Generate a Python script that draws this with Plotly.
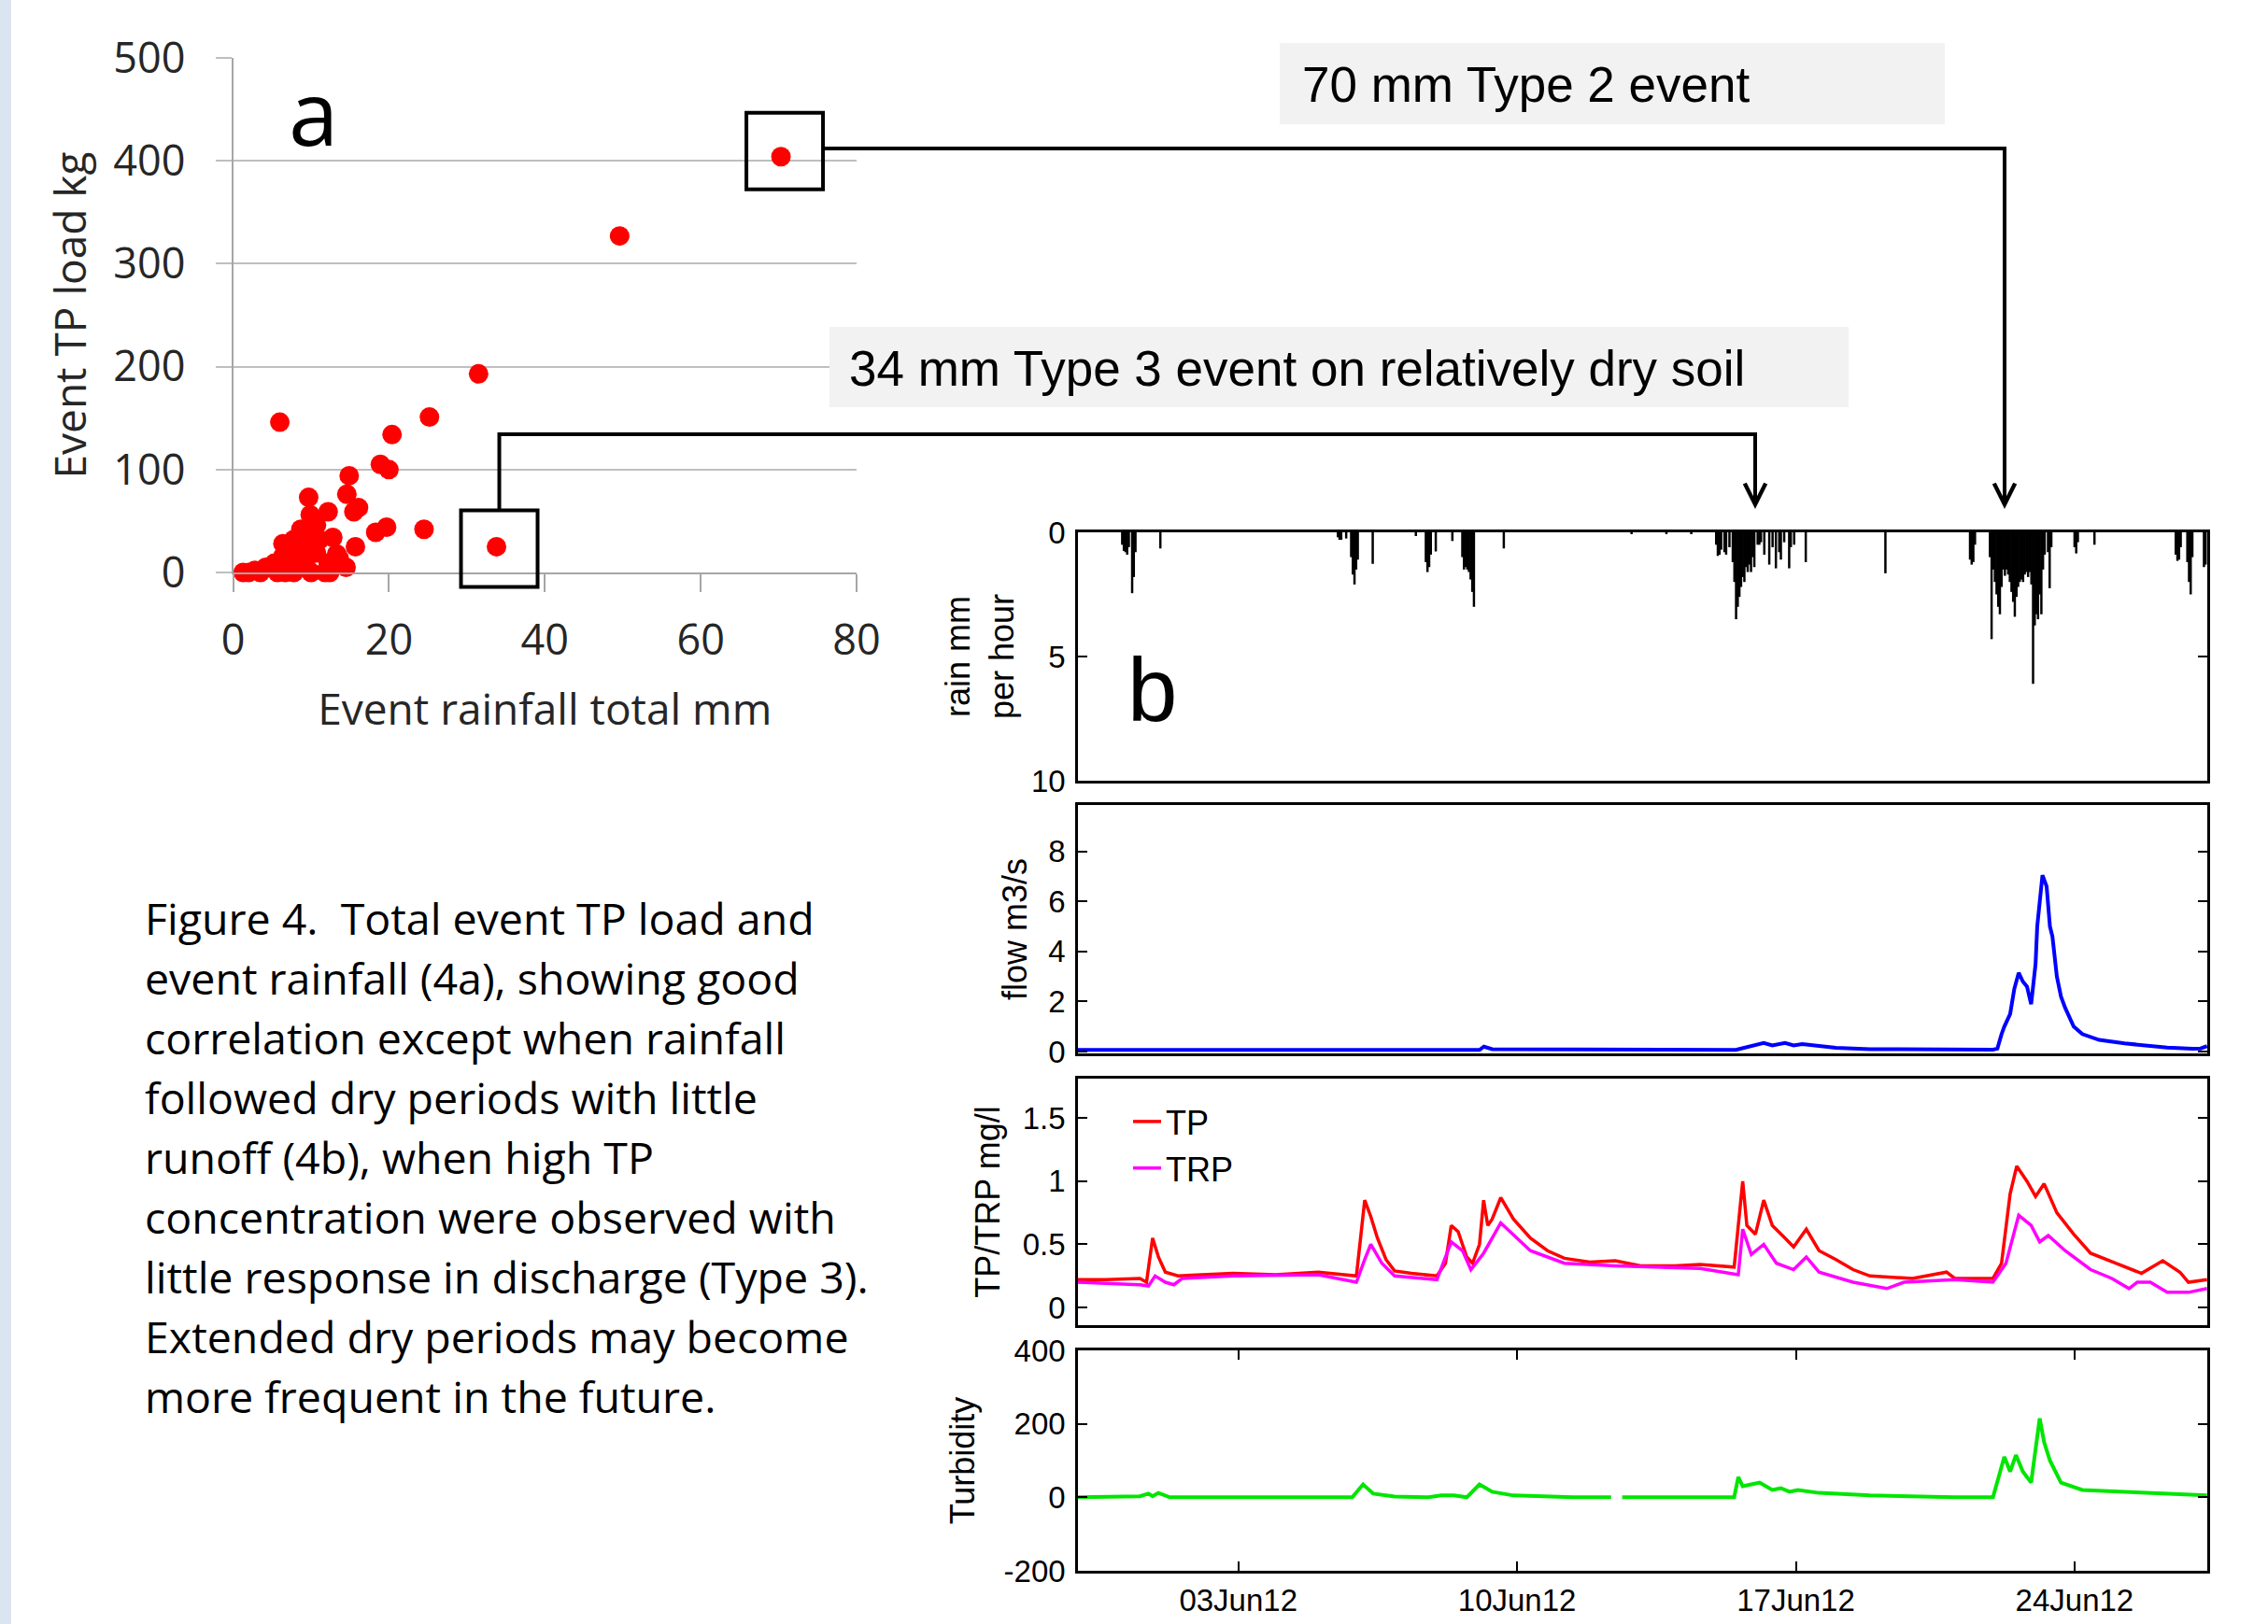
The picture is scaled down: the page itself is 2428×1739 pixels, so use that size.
import plotly.graph_objects as go

W, H = 2428, 1739


def px(x):
    return x / W


def py(y):
    return 1 - y / H


# ---------------- Panel a: event totals ----------------
event_rain_mm = [70.3, 49.6, 31.5, 25.2, 20.4, 6.0, 18.9, 20.0, 14.9, 9.7,
                 14.6, 16.1, 15.5, 12.2, 9.9, 8.7, 18.3, 19.7, 24.5, 15.7,
                 33.8, 12.8, 10.7, 1.3, 2.8, 4.2, 5.3, 6.4, 6.4, 7.5,
                 7.8, 9.3, 10.0, 10.7, 11.8, 12.2, 13.6, 14.5, 13.3, 11.1,
                 8.6, 7.1, 5.7, 9.6, 10.4, 7.8, 12.4, 3.5, 2.0, 6.7]
event_tp_kg = [404, 327, 193, 151, 134, 146, 105, 100, 94, 73,
               76, 63, 59, 59, 56, 42, 39, 44, 42, 25,
               25, 34, 46, 0, 2, 5, 9, 16, 28, 19,
               0, 9, 0, 19, 0, 9, 14, 5, 18, 32,
               28, 5, 0, 23, 37, 32, 0, 0, 0, 0]
IDX_TYPE2 = 0    # 70 mm Type 2 event
IDX_TYPE3 = 20   # 34 mm Type 3 event

# ---------------- Panel b: time series ----------------
rain_time = [
    "2012-05-31 02:00", "2012-05-31 03:00", "2012-05-31 04:00", "2012-05-31 05:00", "2012-05-31 06:00",
    "2012-05-31 08:00", "2012-05-31 09:00", "2012-05-31 10:00", "2012-06-01 01:00",
    "2012-06-05 12:00", "2012-06-05 13:00", "2012-06-05 14:00", "2012-06-05 17:00",
    "2012-06-05 20:00", "2012-06-05 21:00", "2012-06-05 22:00", "2012-06-05 23:00", "2012-06-06 00:00",
    "2012-06-06 09:00",
    "2012-06-07 11:00", "2012-06-07 17:00", "2012-06-07 18:00", "2012-06-07 19:00", "2012-06-07 20:00",
    "2012-06-07 23:00", "2012-06-08 09:00",
    "2012-06-08 15:00", "2012-06-08 16:00", "2012-06-08 17:00", "2012-06-08 18:00", "2012-06-08 19:00",
    "2012-06-08 20:00", "2012-06-08 21:00", "2012-06-08 22:00", "2012-06-09 16:00",
    "2012-06-12 21:00", "2012-06-13 18:00", "2012-06-14 09:00",
    "2012-06-15 00:00", "2012-06-15 01:00", "2012-06-15 02:00", "2012-06-15 03:00", "2012-06-15 05:00",
    "2012-06-15 06:00", "2012-06-15 08:00", "2012-06-15 10:00", "2012-06-15 11:00", "2012-06-15 12:00",
    "2012-06-15 13:00", "2012-06-15 14:00", "2012-06-15 15:00", "2012-06-15 16:00", "2012-06-15 17:00",
    "2012-06-15 18:00", "2012-06-15 19:00", "2012-06-15 20:00", "2012-06-15 21:00", "2012-06-15 22:00",
    "2012-06-15 23:00", "2012-06-16 01:00", "2012-06-16 02:00", "2012-06-16 03:00", "2012-06-16 05:00",
    "2012-06-16 08:00", "2012-06-16 10:00", "2012-06-16 12:00", "2012-06-16 14:00", "2012-06-16 15:00",
    "2012-06-16 17:00", "2012-06-16 20:00", "2012-06-16 21:00", "2012-06-16 23:00", "2012-06-17 06:00",
    "2012-06-19 06:00",
    "2012-06-21 09:00", "2012-06-21 10:00", "2012-06-21 11:00", "2012-06-21 12:00",
    "2012-06-21 21:00", "2012-06-21 22:00", "2012-06-21 23:00",
    "2012-06-22 00:00", "2012-06-22 01:00", "2012-06-22 02:00", "2012-06-22 03:00", "2012-06-22 04:00",
    "2012-06-22 05:00", "2012-06-22 06:00", "2012-06-22 07:00", "2012-06-22 08:00", "2012-06-22 09:00",
    "2012-06-22 10:00", "2012-06-22 11:00", "2012-06-22 12:00", "2012-06-22 13:00", "2012-06-22 14:00",
    "2012-06-22 15:00", "2012-06-22 16:00", "2012-06-22 17:00", "2012-06-22 18:00", "2012-06-22 19:00",
    "2012-06-22 20:00", "2012-06-22 21:00", "2012-06-22 22:00", "2012-06-22 23:00",
    "2012-06-23 00:00", "2012-06-23 01:00", "2012-06-23 02:00", "2012-06-23 03:00", "2012-06-23 04:00",
    "2012-06-23 05:00", "2012-06-23 06:00", "2012-06-23 08:00", "2012-06-23 09:00", "2012-06-23 10:00",
    "2012-06-24 00:00", "2012-06-24 01:00", "2012-06-24 02:00", "2012-06-24 12:00",
    "2012-06-26 13:00", "2012-06-26 14:00", "2012-06-26 15:00", "2012-06-26 16:00",
    "2012-06-26 20:00", "2012-06-26 21:00", "2012-06-26 22:00", "2012-06-26 23:00",
    "2012-06-27 06:00", "2012-06-27 07:00",
]
rain_mmh = [
    0.5, 0.75, 0.8, 0.9, 0.6,
    2.45, 1.8, 0.8, 0.65,
    0.2, 0.3, 0.3, 0.25,
    1.0, 1.7, 2.1, 1.5, 1.1,
    1.27,
    0.15, 1.2, 1.6, 1.4, 0.9,
    0.77, 0.35,
    1.0, 1.5, 1.4, 1.5, 1.6,
    1.9, 2.4, 3.0, 0.65,
    0.05, 0.05, 0.05,
    0.5, 0.95, 0.9, 0.7, 0.8,
    0.9, 0.6, 1.2, 2.0, 3.5,
    3.0, 2.6, 2.2, 1.8, 2.0,
    1.4, 1.6, 1.3, 1.6, 1.0,
    1.4, 0.5, 0.5, 0.4, 0.9,
    1.3, 0.6, 1.45, 0.8, 1.1,
    0.4, 1.45, 0.6, 0.5, 1.2,
    1.65,
    1.1, 1.3, 1.2, 0.5,
    1.0, 4.3, 1.5,
    2.0, 2.5, 3.0, 3.3, 2.2,
    1.5, 1.75, 1.5, 1.7, 2.0,
    2.4, 2.8, 3.4, 2.6, 2.2,
    2.0, 1.9, 2.0, 1.7, 1.6,
    1.8, 1.6, 2.1, 6.1,
    3.75, 3.3, 3.5, 2.5, 3.3,
    1.5, 0.9, 0.8, 2.25, 0.6,
    0.6, 0.85, 0.4, 0.5,
    0.9, 1.15, 1.1, 0.6,
    1.2, 2.0, 2.5, 1.0,
    1.4, 1.3,
]

flow_time = [
    "2012-05-29 23:20", "2012-06-09 01:20", "2012-06-09 04:00", "2012-06-09 09:00", "2012-06-15 11:50",
    "2012-06-16 02:10", "2012-06-16 04:40", "2012-06-16 09:50", "2012-06-16 17:30", "2012-06-16 22:40",
    "2012-06-17 03:50", "2012-06-18 00:10", "2012-06-18 20:40", "2012-06-21 22:50", "2012-06-22 01:30",
    "2012-06-22 04:00", "2012-06-22 05:40", "2012-06-22 09:10", "2012-06-22 11:40", "2012-06-22 14:20",
    "2012-06-22 16:50", "2012-06-22 19:20", "2012-06-22 21:50", "2012-06-23 00:30", "2012-06-23 01:30",
    "2012-06-23 04:40", "2012-06-23 07:10", "2012-06-23 09:10", "2012-06-23 10:40", "2012-06-23 13:20",
    "2012-06-23 15:50", "2012-06-23 18:20", "2012-06-23 23:30", "2012-06-24 04:40", "2012-06-24 14:50",
    "2012-06-25 06:10", "2012-06-26 07:50", "2012-06-26 23:10", "2012-06-27 04:00", "2012-06-27 07:50",
]
flow_m3s = [
    0.07, 0.07, 0.20, 0.10, 0.07,
    0.30, 0.35, 0.25, 0.35, 0.25,
    0.30, 0.15, 0.10, 0.08, 0.12,
    0.70, 1.00, 1.50, 2.50, 3.15,
    2.80, 2.60, 1.90, 3.50, 5.00,
    7.05, 6.60, 5.00, 4.60, 3.00,
    2.20, 1.75, 1.00, 0.70, 0.47,
    0.33, 0.16, 0.12, 0.13, 0.22,
]

tp_time = [
    "2012-05-29 23:20", "2012-05-30 16:10", "2012-05-31 12:40", "2012-05-31 16:40", "2012-05-31 20:20",
    "2012-05-31 23:50", "2012-06-01 04:00", "2012-06-01 11:40", "2012-06-02 20:50", "2012-06-03 22:30",
    "2012-06-05 00:10", "2012-06-05 23:10", "2012-06-06 04:10", "2012-06-06 07:50", "2012-06-06 11:50",
    "2012-06-06 17:00", "2012-06-06 22:10", "2012-06-07 08:20", "2012-06-07 23:40", "2012-06-08 04:50",
    "2012-06-08 08:20", "2012-06-08 12:30", "2012-06-08 17:40", "2012-06-08 21:10", "2012-06-09 01:20",
    "2012-06-09 03:50", "2012-06-09 06:20", "2012-06-09 09:00", "2012-06-09 14:10", "2012-06-09 21:50",
    "2012-06-10 08:00", "2012-06-10 18:20", "2012-06-11 04:30", "2012-06-11 19:50", "2012-06-12 11:10",
    "2012-06-13 02:30", "2012-06-13 23:00", "2012-06-14 14:20", "2012-06-15 10:50", "2012-06-15 16:00",
    "2012-06-15 18:30", "2012-06-15 23:40", "2012-06-16 04:40", "2012-06-16 09:50", "2012-06-16 17:30",
    "2012-06-16 22:40", "2012-06-17 06:20", "2012-06-17 14:00", "2012-06-18 00:10", "2012-06-18 10:30",
    "2012-06-18 20:40", "2012-06-19 22:20", "2012-06-20 18:50", "2012-06-20 23:50", "2012-06-21 22:50",
    "2012-06-22 04:00", "2012-06-22 09:10", "2012-06-22 13:10", "2012-06-22 19:20", "2012-06-23 00:30",
    "2012-06-23 05:40", "2012-06-23 13:20", "2012-06-23 23:30", "2012-06-24 09:40", "2012-06-25 01:10",
    "2012-06-25 16:20", "2012-06-26 05:10", "2012-06-26 15:30", "2012-06-26 20:40", "2012-06-27 07:50",
]
tp_mgl = [
    0.22, 0.22, 0.23, 0.20, 0.55,
    0.40, 0.28, 0.25, 0.27, 0.26,
    0.28, 0.25, 0.85, 0.72, 0.55,
    0.38, 0.29, 0.27, 0.25, 0.35,
    0.65, 0.60, 0.40, 0.35, 0.50,
    0.85, 0.65, 0.70, 0.87, 0.70,
    0.55, 0.45, 0.39, 0.36, 0.37,
    0.33, 0.33, 0.34, 0.32, 1.00,
    0.65, 0.58, 0.85, 0.65, 0.55,
    0.48, 0.62, 0.45, 0.38, 0.30,
    0.25, 0.23, 0.28, 0.23, 0.23,
    0.35, 0.90, 1.12, 1.00, 0.88,
    0.98, 0.75, 0.58, 0.43, 0.35,
    0.27, 0.37, 0.28, 0.20, 0.22,
]

trp_time = [
    "2012-05-29 23:20", "2012-05-31 12:40", "2012-05-31 17:50", "2012-05-31 21:50", "2012-06-01 04:00",
    "2012-06-01 09:10", "2012-06-01 14:10", "2012-06-02 20:50", "2012-06-05 00:10", "2012-06-05 23:10",
    "2012-06-06 04:10", "2012-06-06 07:50", "2012-06-06 14:30", "2012-06-06 22:10", "2012-06-07 23:40",
    "2012-06-08 08:20", "2012-06-08 15:10", "2012-06-08 20:10", "2012-06-09 03:50", "2012-06-09 14:10",
    "2012-06-10 08:00", "2012-06-11 04:30", "2012-06-12 11:10", "2012-06-14 14:20", "2012-06-15 13:20",
    "2012-06-15 16:00", "2012-06-15 21:10", "2012-06-16 04:40", "2012-06-16 12:20", "2012-06-16 22:40",
    "2012-06-17 06:20", "2012-06-17 14:00", "2012-06-18 10:30", "2012-06-19 06:50", "2012-06-19 17:10",
    "2012-06-20 23:50", "2012-06-21 22:50", "2012-06-22 06:40", "2012-06-22 14:20", "2012-06-22 21:50",
    "2012-06-23 03:00", "2012-06-23 08:10", "2012-06-23 18:20", "2012-06-24 09:40", "2012-06-24 22:30",
    "2012-06-25 08:50", "2012-06-25 13:50", "2012-06-25 21:40", "2012-06-26 07:50", "2012-06-26 20:40",
    "2012-06-27 07:50",
]
trp_mgl = [
    0.20, 0.18, 0.17, 0.25, 0.20,
    0.18, 0.23, 0.25, 0.26, 0.20,
    0.38, 0.50, 0.35, 0.25, 0.22,
    0.52, 0.45, 0.30, 0.43, 0.67,
    0.45, 0.35, 0.33, 0.31, 0.26,
    0.62, 0.42, 0.50, 0.35, 0.30,
    0.40, 0.28, 0.20, 0.15, 0.20,
    0.22, 0.20, 0.35, 0.73, 0.65,
    0.52, 0.57, 0.45, 0.30, 0.23,
    0.15, 0.20, 0.20, 0.12, 0.12,
    0.15,
]

turb_time = [
    "2012-05-29 23:20", "2012-05-31 12:40", "2012-05-31 17:50", "2012-05-31 20:20", "2012-05-31 23:50",
    "2012-06-01 06:40", "2012-06-05 20:40", "2012-06-06 03:10", "2012-06-06 09:20", "2012-06-06 22:10",
    "2012-06-07 18:40", "2012-06-08 02:20", "2012-06-08 10:00", "2012-06-08 17:40", "2012-06-09 01:20",
    "2012-06-09 09:00", "2012-06-09 21:50", "2012-06-11 09:40", "2012-06-12 08:40", "2012-06-12 12:00",
    "2012-06-12 15:20", "2012-06-15 10:50", "2012-06-15 13:20", "2012-06-15 16:00", "2012-06-15 21:10",
    "2012-06-16 02:10", "2012-06-16 09:50", "2012-06-16 15:00", "2012-06-16 20:10", "2012-06-17 01:10",
    "2012-06-17 14:00", "2012-06-18 20:40", "2012-06-20 23:50", "2012-06-21 22:50", "2012-06-22 05:40",
    "2012-06-22 09:10", "2012-06-22 12:40", "2012-06-22 16:50", "2012-06-22 21:50", "2012-06-23 03:00",
    "2012-06-23 05:40", "2012-06-23 09:10", "2012-06-23 15:50", "2012-06-24 04:40", "2012-06-25 06:10",
    "2012-06-26 02:40", "2012-06-27 07:50",
]
turbidity = [
    0, 3, 10, 3, 12,
    0, 0, 35, 10, 2,
    0, 5, 5, 0, 35,
    15, 5, 0, 0, None,
    0, 0, 55, 30, 35,
    40, 20, 25, 15, 20,
    12, 5, 0, 0, 110,
    70, 115, 70, 40, 215,
    150, 100, 40, 20, 15,
    10, 5,
]

date_ticks = ["2012-06-03", "2012-06-10", "2012-06-17", "2012-06-24"]
date_range = ["2012-05-29 23:20", "2012-06-27 08:00"]

caption_lines = [
    "Figure 4.\u00a0 Total event TP load and",
    "event rainfall (4a), showing good",
    "correlation except when rainfall",
    "followed dry periods with little",
    "runoff (4b), when high TP",
    "concentration were observed with",
    "little response in discharge (Type 3).",
    "Extended dry periods may become",
    "more frequent in the future.",
]

# ---------------- styling ----------------
SANS_A = "Open Sans, Lato, sans-serif"
SANS_B = "Liberation Sans, Arial, sans-serif"
GRID = "#bfbfbf"
AXGRAY = "#a6a6a6"
TXT_A = "#262626"

# panel a geometry (pixels)
A_X0, A_X1 = 249.5, 917
A_Y0, A_Y1 = 613, 62
A_XR = [0, 80]
A_YR = [0, 500]
# panel b geometry
B_X0, B_X1 = 1154, 2363
RAIN_Y = (836, 570)
FLOW_Y = (1128, 862)
TP_Y = (1419, 1155)
TURB_Y = (1682, 1446)

fig = go.Figure()

fig.add_trace(go.Scatter(
    x=event_rain_mm, y=event_tp_kg, mode="markers",
    marker=dict(color="#ff0000", size=21, line=dict(width=0)),
    xaxis="x", yaxis="y", showlegend=False, cliponaxis=False,
    name="events"))

fig.add_trace(go.Bar(
    x=rain_time, y=rain_mmh, xaxis="x2", yaxis="y2",
    marker=dict(color="black", line=dict(width=0)),
    width=3600000 * 1.4, showlegend=False, name="rain"))

fig.add_trace(go.Scatter(
    x=flow_time, y=flow_m3s, mode="lines", xaxis="x3", yaxis="y3",
    line=dict(color="#0000ff", width=4), showlegend=False, name="flow"))

fig.add_trace(go.Scatter(
    x=tp_time, y=tp_mgl, mode="lines", xaxis="x4", yaxis="y4",
    line=dict(color="#ff0000", width=3.5), name="TP"))
fig.add_trace(go.Scatter(
    x=trp_time, y=trp_mgl, mode="lines", xaxis="x4", yaxis="y4",
    line=dict(color="#ff00ff", width=3.5), name="TRP"))

fig.add_trace(go.Scatter(
    x=turb_time, y=turbidity, mode="lines", xaxis="x5", yaxis="y5",
    line=dict(color="#00e600", width=4), showlegend=False, connectgaps=False,
    name="Turbidity"))

# ---------- axes ----------
layout = dict(
    width=W, height=H, margin=dict(l=0, r=0, t=0, b=0),
    paper_bgcolor="white", plot_bgcolor="white", template="none",
    showlegend=True,
    legend=dict(x=px(1208), y=py(1171), xanchor="left", yanchor="top",
                bgcolor="rgba(0,0,0,0)", borderwidth=0,
                font=dict(family=SANS_B, size=36, color="black"),
                tracegroupgap=0),
)

layout["xaxis"] = dict(
    domain=[px(A_X0), px(A_X1)], range=A_XR, anchor="y",
    tickvals=[0, 20, 40, 60, 80], showgrid=False, zeroline=False,
    showline=True, linecolor=AXGRAY, linewidth=2,
    ticks="outside", ticklen=19, tickwidth=2, tickcolor=AXGRAY,
    tickfont=dict(family=SANS_A, size=45, color=TXT_A), ticklabelstandoff=13,
    title=dict(text="Event rainfall total mm", standoff=31,
               font=dict(family=SANS_A, size=46, color=TXT_A)))
layout["yaxis"] = dict(
    domain=[py(A_Y0), py(A_Y1)], range=A_YR, anchor="x",
    tickvals=[0, 100, 200, 300, 400, 500], showgrid=True, gridcolor=GRID, gridwidth=2,
    zeroline=False, showline=True, linecolor=AXGRAY, linewidth=2,
    ticks="outside", ticklen=17, tickwidth=2, tickcolor=GRID,
    tickfont=dict(family=SANS_A, size=45, color=TXT_A), ticklabelstandoff=23,
    title=dict(text="Event TP load kg", standoff=14,
               font=dict(family=SANS_A, size=46, color=TXT_A)))

tickfont_b = dict(family=SANS_B, size=33, color="black")
titlefont_b = dict(family=SANS_B, size=36, color="black")


def bx(anchor, bottom=False):
    d = dict(type="date", range=date_range, domain=[px(B_X0), px(B_X1)], anchor=anchor,
             showgrid=False, zeroline=False, showline=True, linecolor="black", linewidth=2.5)
    if bottom:
        d.update(mirror="allticks", ticks="inside", ticklen=10, tickwidth=2, tickcolor="black",
                 tickvals=date_ticks, tickformat="%d%b%y", tickfont=tickfont_b,
                 ticklabelstandoff=1)
    else:
        d.update(mirror=True, ticks="", showticklabels=False)
    return d


def by(anchor, ypix, rng, tickvals, ticktext, title, standoff):
    return dict(domain=[py(ypix[0]), py(ypix[1])], range=rng, anchor=anchor,
                showgrid=False, zeroline=False, showline=True, linecolor="black", linewidth=2.5,
                mirror="allticks", ticks="inside", ticklen=10, tickwidth=2, tickcolor="black",
                tickvals=tickvals, ticktext=ticktext, tickfont=tickfont_b, ticklabelstandoff=4,
                title=dict(text=title, standoff=standoff, font=titlefont_b))


layout["xaxis2"] = bx("y2")
layout["xaxis3"] = bx("y3")
layout["xaxis4"] = bx("y4")
layout["xaxis5"] = bx("y5", bottom=True)
layout["yaxis2"] = by("x2", RAIN_Y, [10, 0], [0, 5, 10], ["0", "5", "10"], "rain mm<br>per hour", 8)
layout["yaxis3"] = by("x3", FLOW_Y, [-0.07, 9.85], [0, 2, 4, 6, 8], ["0", "2", "4", "6", "8"], "flow m3/s", 12)
layout["yaxis4"] = by("x4", TP_Y, [-0.14, 1.813], [0, 0.5, 1, 1.5], ["0", "0.5", "1", "1.5"], "TP/TRP mg/l", 14)
layout["yaxis5"] = by("x5", TURB_Y, [-200, 400], [-200, 0, 200, 400], ["-200", "0", "200", "400"], "Turbidity", 20)

fig.update_layout(**layout)


# ---------- annotation geometry derived from the highlighted events ----------
def a_xpix(v):
    return A_X0 + (v - A_XR[0]) / (A_XR[1] - A_XR[0]) * (A_X1 - A_X0)


def a_ypix(v):
    return A_Y0 + (v - A_YR[0]) / (A_YR[1] - A_YR[0]) * (A_Y1 - A_Y0)


BOX_HALF_W = 41   # px
BOX_HALF_H = 41   # px
shapes = []
# light-blue slide edge
shapes.append(dict(type="rect", xref="paper", yref="paper", x0=0, x1=px(12), y0=0, y1=1,
                   fillcolor="#dbe5f1", line=dict(width=0), layer="below"))
# grey label boxes
shapes.append(dict(type="rect", xref="paper", yref="paper", x0=px(1370), x1=px(2082),
                   y0=py(133), y1=py(46), fillcolor="#f2f2f2", line=dict(width=0), layer="above"))
shapes.append(dict(type="rect", xref="paper", yref="paper", x0=px(888), x1=px(1979),
                   y0=py(436), y1=py(350), fillcolor="#f2f2f2", line=dict(width=0), layer="above"))

box_centres = {}
for key, idx, dx, dy in (("t2", IDX_TYPE2, 4, -6), ("t3", IDX_TYPE3, 3, 2)):
    cx = a_xpix(event_rain_mm[idx]) + dx
    cy = a_ypix(event_tp_kg[idx]) + dy
    box_centres[key] = (cx, cy)
    shapes.append(dict(type="rect", xref="paper", yref="paper",
                       x0=px(cx - BOX_HALF_W), x1=px(cx + BOX_HALF_W),
                       y0=py(cy + BOX_HALF_H), y1=py(cy - BOX_HALF_H),
                       line=dict(color="black", width=4), fillcolor="rgba(0,0,0,0)", layer="above"))

ARROW_T3_X, ARROW_T2_X = 1879, 2146
ARROW_TIP_Y = 545
LOW_Y = 465
cx2, cy2 = box_centres["t2"]
cx3, cy3 = box_centres["t3"]


def ppath(points):
    s = "M {} {}".format(px(points[0][0]), py(points[0][1]))
    for x, y in points[1:]:
        s += " L {} {}".format(px(x), py(y))
    return s


shapes.append(dict(type="path", xref="paper", yref="paper",
                   path=ppath([(cx2 + BOX_HALF_W, 159), (ARROW_T2_X, 159), (ARROW_T2_X, ARROW_TIP_Y - 6)]),
                   line=dict(color="black", width=4), layer="above"))
shapes.append(dict(type="path", xref="paper", yref="paper",
                   path=ppath([(cx3, cy3 - BOX_HALF_H), (cx3, LOW_Y), (ARROW_T3_X, LOW_Y),
                               (ARROW_T3_X, ARROW_TIP_Y - 6)]),
                   line=dict(color="black", width=4), layer="above"))

annotations = []
for ax_x in (ARROW_T3_X, ARROW_T2_X):
    annotations.append(dict(xref="paper", yref="paper", x=px(ax_x), y=py(ARROW_TIP_Y), text="",
                            showarrow=True, arrowhead=5, arrowsize=1.1, arrowwidth=4,
                            arrowcolor="black", ax=0, ay=-40, standoff=0))

annotations.append(dict(xref="paper", yref="paper", x=px(1392), y=py(90), xanchor="left",
                        yanchor="middle", text="70 mm Type 2 event", showarrow=False,
                        font=dict(family=SANS_B, size=53, color="black")))
annotations.append(dict(xref="paper", yref="paper", x=px(907), y=py(394), xanchor="left",
                        yanchor="middle", text="34 mm Type 3 event on relatively dry soil",
                        showarrow=False, font=dict(family=SANS_B, size=53, color="black")))
annotations.append(dict(xref="paper", yref="paper", x=px(335), y=py(118), xanchor="center",
                        yanchor="middle", text="a", showarrow=False,
                        font=dict(family=SANS_A, size=96, color="black")))
annotations.append(dict(xref="paper", yref="paper", x=px(1233), y=py(738), xanchor="center",
                        yanchor="middle", text="b", showarrow=False,
                        font=dict(family=SANS_B, size=96, color="black")))
for i, line in enumerate(caption_lines):
    annotations.append(dict(xref="paper", yref="paper", x=px(153), y=py(983 + 64 * i),
                            xanchor="left", yanchor="middle", text=line, showarrow=False,
                            font=dict(family=SANS_A, size=46.5, color="black")))

fig.update_layout(shapes=shapes, annotations=annotations)

# remove the browser's default 8px body margin so the figure fills the window exactly
fig.write_html("out.html", config={"displayModeBar": False},
               post_script="document.body.style.margin='0';")
